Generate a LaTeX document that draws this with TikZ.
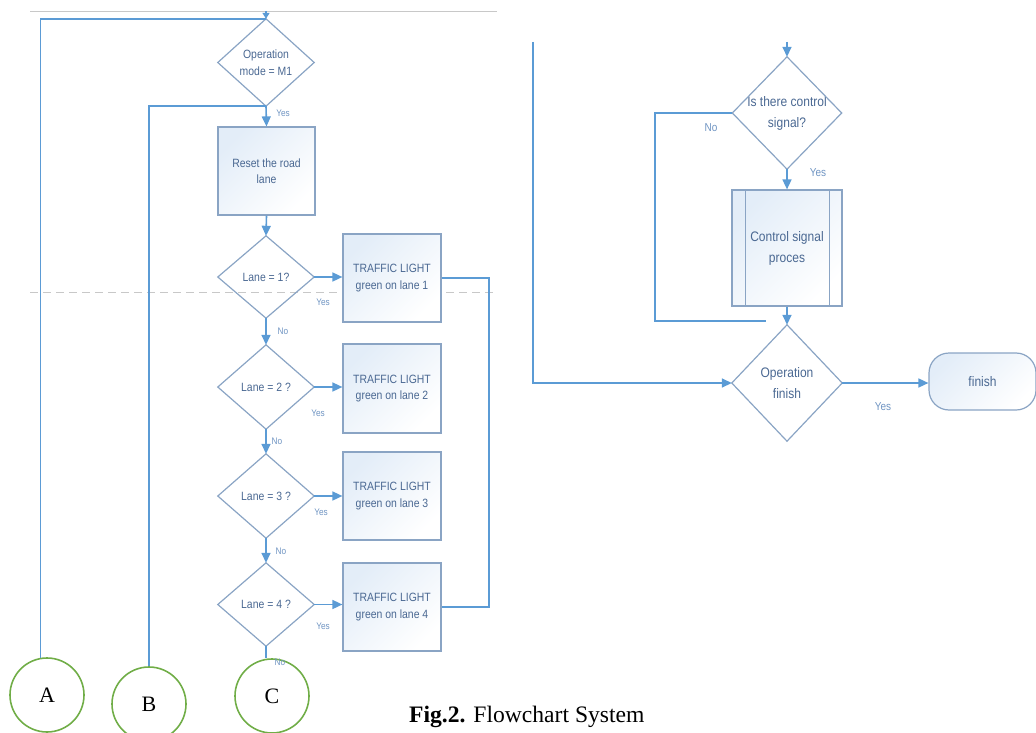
\documentclass[tikz,border=0pt]{standalone}
\usepackage{fontspec}
\setmainfont{Liberation Serif}
\newfontfamily\flowfont{Liberation Sans}[FakeStretch=0.87]
\usetikzlibrary{arrows.meta,calc}
\definecolor{lineblue}{HTML}{5B9BD5}
\definecolor{shapeedge}{HTML}{8AA4C4}
\definecolor{txtblue}{HTML}{4A6892}
\definecolor{lblblue}{HTML}{6F94C2}
\definecolor{fillblue}{HTML}{E3EDF8}
\definecolor{ringgreen}{HTML}{70AD47}
\definecolor{rulegray}{HTML}{C8C8C8}
\newcommand\dmout[1]{\draw[dedge] (#1.north) -- (#1.east) -- (#1.south) -- (#1.west) -- cycle;}
\begin{document}
\begin{tikzpicture}[x=1pt,y=-1pt,
  conn/.style={draw=lineblue, line width=1.6pt},
  arr/.style={conn, -{Triangle[length=10pt,width=9pt]}},
  sarr/.style={conn, -{Triangle[length=6pt,width=7pt]}},
  dedge/.style={draw=shapeedge, line width=1.2pt},
  lfont/.style={font=\flowfont\fontsize{12}{16.5}\selectfont},
  rfont/.style={font=\flowfont\fontsize{13.8}{21}\selectfont},
  dec/.style={rectangle, inner sep=0pt, align=center, text=txtblue},
  procbox/.style={rectangle, draw=shapeedge, line width=1.2pt, top color=fillblue, bottom color=white, shading angle=45, text=txtblue, align=center, inner sep=0pt},
  termbox/.style={procbox, rounded corners=20pt},
  ring/.style={circle, draw=ringgreen, line width=1.6pt, minimum size=74pt, inner sep=0pt, font=\fontsize{22}{22}\selectfont},
  lbl/.style={text=lblblue, inner sep=0pt, font=\flowfont\fontsize{9.5}{10}\selectfont},
  rlbl/.style={text=lblblue, inner sep=0pt, font=\flowfont\fontsize{11.5}{12}\selectfont}
]
\useasboundingbox (0,0) rectangle (1036,733);

% decorative rules
\draw[rulegray, line width=0.8pt] (30,11) -- (497,11);
\draw[rulegray, line width=0.9pt, dash pattern=on 8pt off 5pt] (30,292) -- (497,292);

% ---------- left column ----------
\node[dec, lfont, minimum width=96pt, minimum height=87pt] (opm) at (266,62.5) {Operation\\mode = M1};
\node[procbox, lfont, minimum width=97pt, minimum height=88pt] (reset) at (266.5,171) {Reset the road\\lane};
\node[dec, lfont, minimum width=96pt, minimum height=82pt] (lane1) at (266,277) {Lane = 1?};
\node[dec, lfont, minimum width=96pt, minimum height=84pt] (lane2) at (266,387) {Lane = 2 ?};
\node[dec, lfont, minimum width=96pt, minimum height=84pt] (lane3) at (266,496) {Lane = 3 ?};
\node[dec, lfont, minimum width=96pt, minimum height=83pt] (lane4) at (266,604.5) {Lane = 4 ?};
\dmout{opm}\dmout{lane1}\dmout{lane2}\dmout{lane3}\dmout{lane4}

\node[procbox, lfont, minimum width=98pt, minimum height=88pt] (tl1) at (392,278) {TRAFFIC LIGHT\\green on lane 1};
\node[procbox, lfont, minimum width=98pt, minimum height=89pt] (tl2) at (392,388.5) {TRAFFIC LIGHT\\green on lane 2};
\node[procbox, lfont, minimum width=98pt, minimum height=88pt] (tl3) at (392,496) {TRAFFIC LIGHT\\green on lane 3};
\node[procbox, lfont, minimum width=98pt, minimum height=88pt] (tl4) at (392,607) {TRAFFIC LIGHT\\green on lane 4};

\node[ring] (A) at (47,695) {A};
\node[ring] (B) at (149,704) {B};
\node[ring] (C) at (272,696) {C};

\coordinate (mtop) at (266,11);
\coordinate (loopc) at (489,607);

\draw[sarr] (mtop) -- (opm.north);
\draw[conn] (A.100) |- (opm.north);
\draw[conn] (B.north) |- (opm.south);
\draw[arr] (opm.south) -- (reset.north);
\draw[arr] (reset.south) -- (lane1.north);
\draw[arr] (lane1.south) -- (lane2.north);
\draw[arr] (lane2.south) -- (lane3.north);
\draw[arr] (lane3.south) -- (lane4.north);
\draw[conn] (lane4.south) -- (lane4.south |- C.north);
\draw[arr] (lane1.east) -- (lane1.east -| tl1.west);
\draw[arr] (lane2.east) -- (lane2.east -| tl2.west);
\draw[arr] (lane3.east) -- (lane3.east -| tl3.west);
\draw[arr] (lane4.east) -- (lane4.east -| tl4.west);
\draw[conn] (tl1.east) -| (loopc) -- (tl4.east);

\node[lbl] (y0) at (283,113) {Yes};
\node[lbl] (y1) at (323,302) {Yes};
\node[lbl] (n1) at (283,331) {No};
\node[lbl] (y2) at (318,413) {Yes};
\node[lbl] (n2) at (277,441) {No};
\node[lbl] (y3) at (321,512) {Yes};
\node[lbl] (n3) at (281,551) {No};
\node[lbl] (y4) at (323,626) {Yes};
\node[lbl] (n4) at (280,662) {No};

% ---------- right column ----------
\node[dec, rfont, minimum width=109pt, minimum height=112pt] (ctl) at (787,113) {Is there control\\signal?};
\node[procbox, rfont, minimum width=110pt, minimum height=116pt] (proc) at (787,248) {Control signal\\proces};
\node[dec, rfont, minimum width=110pt, minimum height=116pt] (opf) at (787,383) {Operation\\finish};
\node[termbox, rfont, minimum width=107pt, minimum height=57pt] (fin) at (982.5,381.5) {finish};
\dmout{ctl}\dmout{opf}
\draw[dedge] ([xshift=14pt]proc.north west) -- ([xshift=14pt]proc.south west);
\draw[dedge] ([xshift=-13pt]proc.north east) -- ([xshift=-13pt]proc.south east);

\coordinate (ctop) at (787,42);
\coordinate (rtop) at (533,42);
\coordinate (nobot) at (655,321);
\coordinate (noend) at (766,321);

\draw[arr] (ctop) -- (ctl.north);
\draw[arr] (ctl.south) -- (proc.north);
\draw[arr] (proc.south) -- (opf.north);
\draw[conn] (ctl.west) -| (nobot) -- (noend);
\draw[arr] (rtop) |- (opf.west);
\draw[arr] (opf.east) -- (opf.east -| fin.west);

\node[rlbl] (rno) at (711,128) {No};
\node[rlbl] (ryes) at (818,173) {Yes};
\node[rlbl] (fyes) at (883,407) {Yes};

% caption
\node[anchor=west, inner sep=0pt, font=\fontsize{23.6}{25}\selectfont] (cap) at (409,717) {\textbf{Fig.2.} Flowchart System};
\end{tikzpicture}
\end{document}
